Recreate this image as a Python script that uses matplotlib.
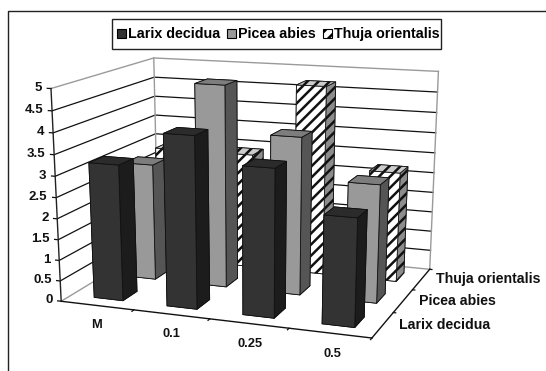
import matplotlib
matplotlib.use("Agg")
import matplotlib.pyplot as plt
import numpy as np
from matplotlib.lines import Line2D
from matplotlib.patches import Rectangle
from mpl_toolkits.mplot3d import proj3d

plt.rcParams['font.family'] = ['Liberation Sans', 'DejaVu Sans']
plt.rcParams['font.weight'] = 'bold'
plt.rcParams['hatch.linewidth'] = 1.8

# data
categories = ['M', '0.1', '0.25', '0.5']
series = ['Larix decidua', 'Picea abies', 'Thuja orientalis']
larix = [3.25, 4.05, 3.45, 2.5]
picea = [2.88, 4.9, 3.8, 2.83]
thuja = [2.9, 2.9, 4.7, 2.72]
z_ticks = [0, 0.5, 1, 1.5, 2, 2.5, 3, 3.5, 4, 4.5, 5]
z_labels = ['0', '0.5', '1', '1.5', '2', '2.5', '3', '3.5', '4', '4.5', '5']

values = [larix, picea, thuja]
# colours per face: -z, +z, -y, +y, -x, +x
face_colors = [
    ['#2b2b2b', '#2b2b2b', '#333333', '#333333', '#1c1c1c', '#1c1c1c'],
    ['#7d7d7d', '#7d7d7d', '#999999', '#999999', '#555555', '#555555'],
    ['#cccccc', '#cccccc', '#ffffff', '#ffffff', '#8c8c8c', '#8c8c8c'],
]
hatches = [None, None, '///']

W, H = 546, 371
fig = plt.figure(figsize=(W / 100, H / 100), dpi=100)
# 3d axes get squared, so keep them square and larger than the figure
ax = fig.add_axes([0, (H - W) / 2 / H, 1, W / H], projection='3d')
ax.computed_zorder = False

n_x = len(categories)
n_y = len(series)
z_top = z_ticks[-1]
ax.set_xlim(0, n_x, view_margin=0)
ax.set_ylim(0, n_y, view_margin=0)
ax.set_zlim(0, z_top, view_margin=0)
ax.set_xticks([])
ax.set_yticks([])
ax.set_zticks([])
ax.set_axis_off()


# Excel's 3d view is no real camera, mplot3d's view_init can't reach it.
# Fit a projection matrix to the box corners instead (pixel positions in the picture)
def fit_projection(axes):
    corners = [((0, 0, 0), (62, 299)), ((n_x, 0, 0), (372, 340)), ((n_x, n_y, 0), (430, 267)),
               ((0, n_y, 0), (157, 245)), ((0, 0, z_top), (50, 89)),
               ((0, n_y, z_top), (155, 57)), ((n_x, n_y, z_top), (438, 72))]
    axes.apply_aspect()
    to_data = axes.transData.inverted()
    rows, rhs = [], []
    for (x, y, z), (px, py) in corners:
        u, v = to_data.transform((px, H - py))
        rows.append([x, y, z, 1, 0, 0, 0, 0, -u * x, -u * y, -u * z])
        rhs.append(u)
        rows.append([0, 0, 0, 0, x, y, z, 1, -v * x, -v * y, -v * z])
        rhs.append(v)
    p = np.linalg.lstsq(np.array(rows), np.array(rhs), rcond=None)[0]
    # third row only orders the faces, far = large
    return np.array([p[:4], p[4:8], [-0.03, 0.1, -0.04, -0.9], [p[8], p[9], p[10], 1]])


proj_matrix = fit_projection(ax)
ax.get_proj = lambda: proj_matrix


# text at a 3d spot, put down as plain 2d text
def label_at(x, y, z, text, **kwargs):
    u, v, _ = proj3d.proj_transform(x, y, z, proj_matrix)
    ax.text2D(u, v, text, transform=ax.transData, va='center', color='#111111', **kwargs)


# walls, gridlines and ticks
for z in z_ticks:
    if z == 0 or z == z_top:
        col, lw = '#9a9a9a', 1.0
    else:
        col, lw = '#111111', 0.9
    ax.plot([0, 0, n_x], [0, n_y, n_y], [z, z, z], color=col, lw=lw, zorder=1)
    ax.plot([0, -0.05], [0, 0], [z, z], color='#111111', lw=0.9, zorder=1)

for z, lab in zip(z_ticks, z_labels):
    label_at(-0.12, 0, z, lab, ha='right', fontsize=9.5)
ax.plot([0, 0], [n_y, n_y], [0, z_top], color='#9a9a9a', lw=1.0, zorder=1)
ax.plot([n_x, n_x], [n_y, n_y], [0, z_top], color='#9a9a9a', lw=1.0, zorder=1)
ax.plot([0, 0], [0, 0], [0, z_top], color='#222222', lw=1.0, zorder=1)
ax.plot([0, n_x], [0, 0], [0, 0], color='#111111', lw=1.0, zorder=1)
ax.plot([n_x, n_x], [0, n_y], [0, 0], color='#111111', lw=1.0, zorder=1)

for i, lab in enumerate(categories):
    ax.plot([i + 1, i + 1], [0, -0.06], [0, 0], color='#111111', lw=0.9, zorder=1)
    label_at(0.82 + 0.97 * i, -0.68, 0, lab, ha='center', fontsize=9.3)
for j, lab in enumerate(series):
    ax.plot([n_x, n_x + 0.03], [j + 1, j + 1], [0, 0], color='#111111', lw=0.9, zorder=1)
    label_at(n_x + 0.18, j + 0.58, 0, lab, ha='left', fontsize=10.2)

# bars, back row first
bar_w = 0.4
bar_d = 0.42
order = 10
for j in range(n_y - 1, -1, -1):
    for i in range(n_x):
        ax.bar3d(i + 0.315, j + (1 - bar_d) / 2, 0,
                 bar_w, bar_d, values[j][i],
                 color=face_colors[j], edgecolor='#111111', linewidth=0.6,
                 hatch=hatches[j], shade=False, zorder=order)
        order += 1

# legend drawn by hand, Legend shifts a column when a label has a deeper descender
fig.add_artist(Rectangle((112 / W, 1 - 49 / H), 329 / W, 30 / H, transform=fig.transFigure,
                         facecolor='white', edgecolor='#222222', lw=1.0))
legend_x = [117, 227, 323]
legend_cols = ['#333333', '#999999', 'white']
for lx, lab, col, hat in zip(legend_x, series, legend_cols, hatches):
    fig.add_artist(Rectangle((lx / W, 1 - 38 / H), 9 / W, 9 / H, transform=fig.transFigure,
                             facecolor=col, edgecolor='black', lw=0.8, hatch=hat))
    fig.text((lx + 11) / W, 1 - 38 / H, lab, ha='left', va='baseline', fontsize=10.3, color='black')

fig.add_artist(Line2D([8 / W, 8 / W, 1], [0, 1 - 11 / H, 1 - 11 / H], color='#222222', lw=1.0))

fig.savefig('out.png', dpi=100)
